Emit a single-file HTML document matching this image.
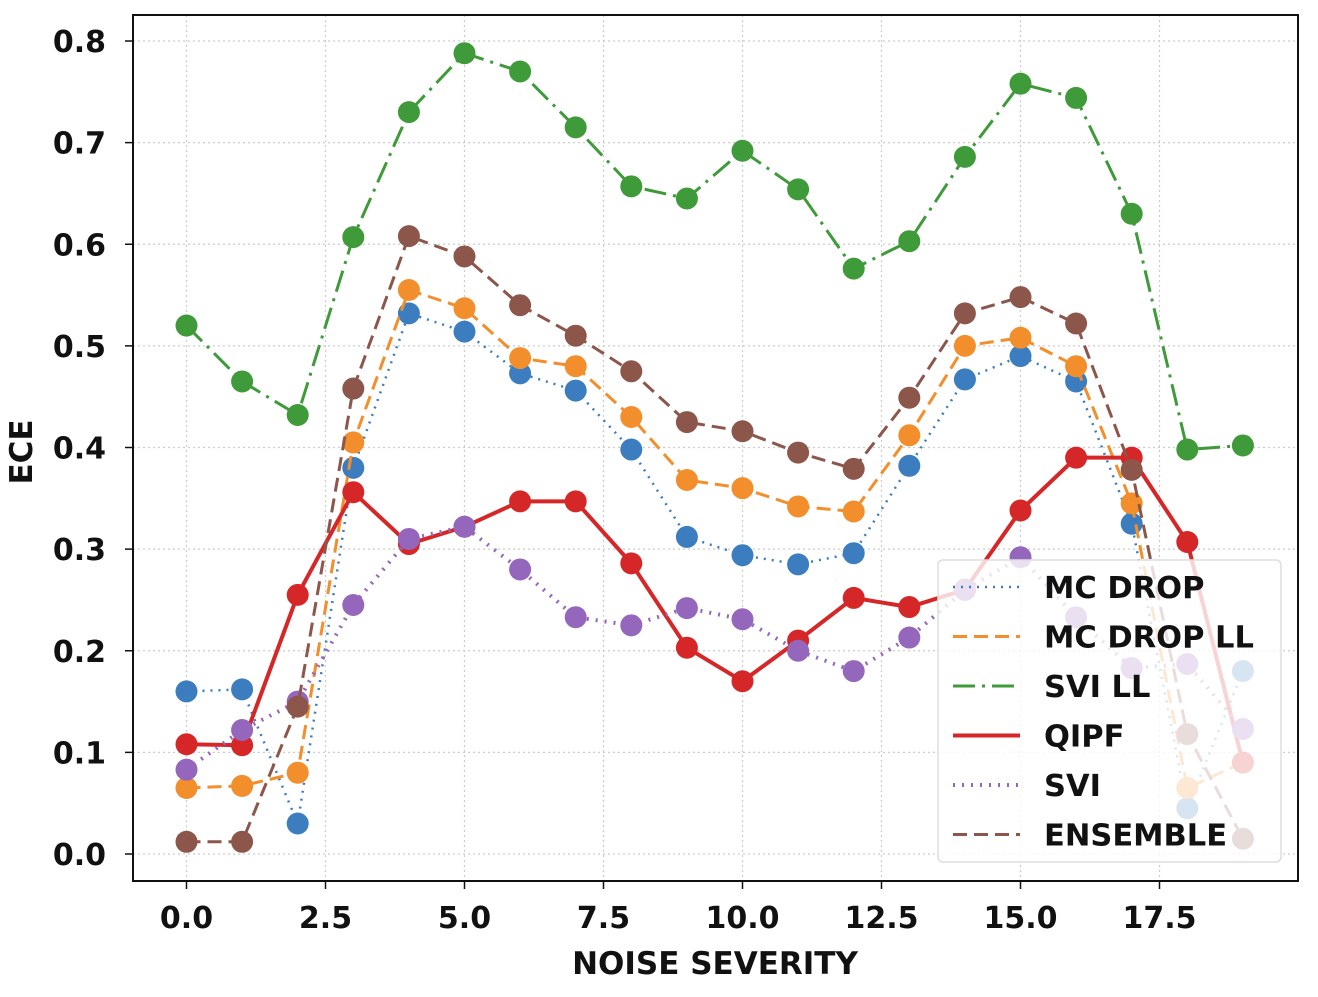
<!DOCTYPE html>
<html><head><meta charset="utf-8"><style>
body{margin:0;background:#fff;}
svg text{font-family:"DejaVu Sans","Liberation Sans",sans-serif;font-weight:bold;fill:#111;}
</style></head><body>
<svg id="chart" width="1318" height="992"></svg>
<script>
const xs=[0,1,2,3,4,5,6,7,8,9,10,11,12,13,14,15,16,17,18,19];
const mcDrop=[0.16,0.162,0.03,0.38,0.532,0.514,0.473,0.456,0.398,0.312,0.294,0.285,0.296,0.382,0.467,0.49,0.465,0.325,0.045,0.18];
const mcDropLL=[0.065,0.067,0.08,0.405,0.555,0.537,0.488,0.48,0.43,0.368,0.36,0.342,0.337,0.412,0.5,0.508,0.48,0.345,0.065,0.09];
const sviLL=[0.52,0.465,0.432,0.607,0.73,0.788,0.77,0.715,0.657,0.645,0.692,0.654,0.576,0.603,0.686,0.758,0.744,0.63,0.398,0.402];
const qipf=[0.108,0.107,0.255,0.356,0.305,0.322,0.347,0.347,0.286,0.203,0.17,0.21,0.252,0.243,0.26,0.338,0.39,0.39,0.307,0.09];
const svi=[0.083,0.122,0.15,0.245,0.31,0.322,0.28,0.233,0.225,0.242,0.231,0.2,0.18,0.213,0.26,0.292,0.233,0.183,0.187,0.123];
const ensemble=[0.012,0.012,0.145,0.458,0.608,0.588,0.54,0.51,0.475,0.425,0.416,0.395,0.379,0.449,0.532,0.548,0.522,0.378,0.118,0.015];
const xTicks=[0,2.5,5,7.5,10,12.5,15,17.5];
const yTicks=[0,0.1,0.2,0.3,0.4,0.5,0.6,0.7,0.8];
const NS='http://www.w3.org/2000/svg';
const svg=document.getElementById('chart');
const X=v=>186.5+55.6*v, Y=v=>854-1016.25*v;
function mk(t,a,p){const e=document.createElementNS(NS,t);for(const k in a)e.setAttribute(k,a[k]);(p||svg).appendChild(e);return e;}
xTicks.forEach(t=>{
 const g=mk('line',{x1:X(t),x2:X(t),y1:15,y2:881,stroke:'#ccc','stroke-dasharray':'2,3','stroke-width':1.2});
 
 mk('line',{x1:X(t),x2:X(t),y1:881,y2:889,stroke:'#111','stroke-width':1.5});
 const tx=mk('text',{x:X(t),y:928,'text-anchor':'middle','font-size':30});tx.textContent=t.toFixed(1);
 
});
yTicks.forEach(t=>{
 const g=mk('line',{x1:133,x2:1298,y1:Y(t),y2:Y(t),stroke:'#ccc','stroke-dasharray':'2,3','stroke-width':1.2});
 
 mk('line',{x1:125,x2:133,y1:Y(t),y2:Y(t),stroke:'#111','stroke-width':1.5});
 const tx=mk('text',{x:106,y:Y(t)+11,'text-anchor':'end','font-size':30});tx.textContent=t.toFixed(1);
 
});
const series=[
 {d:mcDrop,c:'#3b7dbf',dash:'2,6',name:'MC DROP',w:2.5},
 {d:mcDropLL,c:'#f28e2b',dash:'14,7',name:'MC DROP LL',w:3},
 {d:sviLL,c:'#3f9a3a',dash:'22,7,3,7',name:'SVI LL',w:3},
 {d:qipf,c:'#d62728',dash:'',name:'QIPF',w:4},
 {d:svi,c:'#9467bd',dash:'2,7',name:'SVI',w:4},
 {d:ensemble,c:'#8c564b',dash:'14,7',name:'ENSEMBLE',w:3}];
series.forEach(s=>{
 const g=mk('g',{});
 
 
 mk('polyline',{points:s.d.map((v,i)=>X(xs[i])+','+Y(v)).join(' '),fill:'none',stroke:s.c,'stroke-width':s.w,'stroke-dasharray':s.dash},g);
 s.d.forEach((v,i)=>{const p=mk('circle',{cx:X(xs[i]),cy:Y(v),r:11,fill:s.c},g);
  });
});
mk('rect',{x:133,y:15,width:1165,height:866,fill:'none',stroke:'#111','stroke-width':2});
const lg=mk('g',{});

mk('rect',{x:938,y:560,width:343,height:302,rx:5,fill:'rgba(255,255,255,0.8)',stroke:'#ddd','stroke-width':1.5},lg);
series.forEach((s,i)=>{
 const y=587+i*49.5;
 const e=mk('g',{},lg);
 
 mk('line',{x1:953,x2:1020,y1:y,y2:y,stroke:s.c,'stroke-width':s.w,'stroke-dasharray':s.dash},e);
 const t=mk('text',{x:1044,y:y+11,'font-size':30.5,textLength:s.name.length>6?null:null},e);t.textContent=s.name;
});
const xl=mk('text',{x:715,y:974,'text-anchor':'middle','font-size':31});xl.textContent='NOISE SEVERITY';

const yl=mk('text',{x:0,y:0,'text-anchor':'middle','font-size':31,transform:'translate(32,452) rotate(-90)'});yl.textContent='ECE';

</script>
</body></html>
